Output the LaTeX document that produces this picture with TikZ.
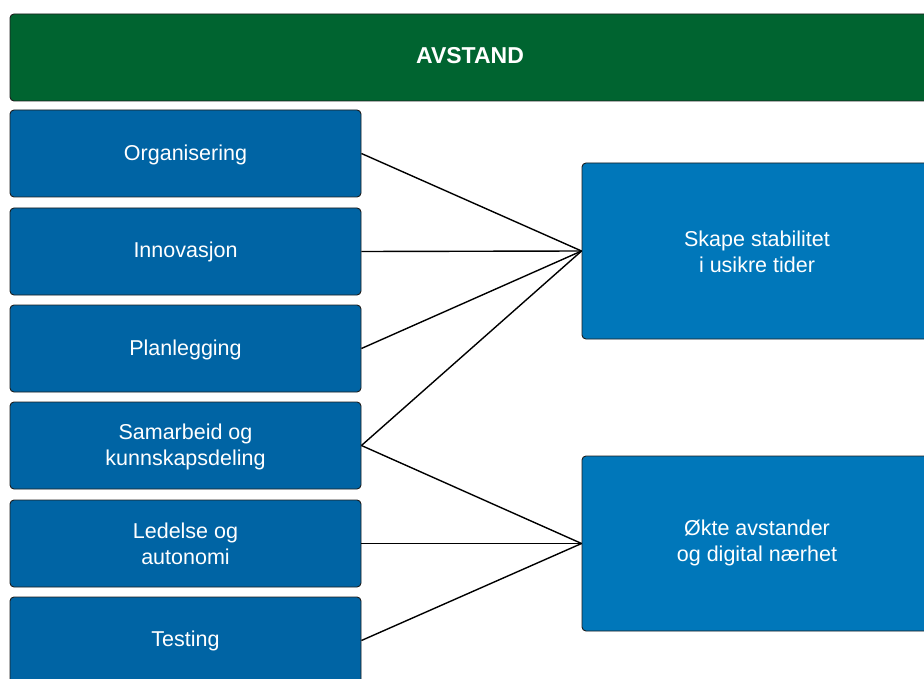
\documentclass[tikz,border=0pt]{standalone}
\usepackage{fontspec}
\setmainfont{Liberation Sans}
\definecolor{hdrgreen}{RGB}{0,100,48}
\definecolor{leftblue}{RGB}{0,100,164}
\definecolor{rightblue}{RGB}{0,119,186}
\definecolor{edgegray}{RGB}{30,30,30}
\begin{document}
\begin{tikzpicture}[x=1pt,y=-1pt,
  box/.style={draw=edgegray,line width=0.9pt,rounded corners=4pt,inner sep=0pt},
  leftbox/.style={box,fill=leftblue,minimum width=351pt,minimum height=87pt},
  rightbox/.style={box,fill=rightblue,minimum width=350pt,minimum height=176pt},
  hdr/.style={box,fill=hdrgreen,minimum width=920pt,minimum height=87pt},
  lbl/.style={text=white,align=center,inner sep=0pt,font=\fontsize{21.5}{26}\selectfont},
  conn/.style={draw=black,line width=1.4pt}]
\useasboundingbox (0,0) rectangle (924,679);
\clip (0,0) rectangle (924,679);
\fill[white] (0,0) rectangle (924,679);
\node[hdr] (h) at (470,57.5) {};
\node[lbl,font=\fontsize{23}{26}\selectfont\bfseries] (ht) at (470,56) {AVSTAND};
\node[leftbox] (a) at (185.5,153.5) {};
\node[leftbox] (b) at (185.5,251.5) {};
\node[leftbox] (c) at (185.5,348.5) {};
\node[leftbox] (d) at (185.5,445.5) {};
\node[leftbox] (e) at (185.5,543.5) {};
\node[leftbox] (f) at (185.5,640.5) {};
\node[lbl] (at) at (185.5,155) {Organisering};
\node[lbl] (bt) at (185.5,252) {Innovasjon};
\node[lbl] (ct) at (185.5,350) {Planlegging};
\node[lbl] (dt) at (185.5,446.5) {Samarbeid og\\kunnskapsdeling};
\node[lbl] (et) at (185.5,543.5) {Ledelse og\\autonomi};
\node[lbl] (ft) at (185.5,641) {Testing};
\node[rightbox] (r1) at (757,251) {};
\node[rightbox,minimum height=175pt] (r2) at (757,543.5) {};
\node[lbl] (r1t) at (757,251.5) {Skape stabilitet\\i usikre tider};
\node[lbl] (r2t) at (757,542.5) {Økte avstander\\og digital nærhet};
\draw[conn] (a.east) -- (r1.west);
\draw[conn] (b.east) -- (r1.west);
\draw[conn] (c.east) -- (r1.west);
\draw[conn] (d.east) -- (r1.west);
\draw[conn] (d.east) -- (r2.west);
\draw[conn] (e.east) -- (r2.west);
\draw[conn] (f.east) -- (r2.west);
\end{tikzpicture}
\end{document}
